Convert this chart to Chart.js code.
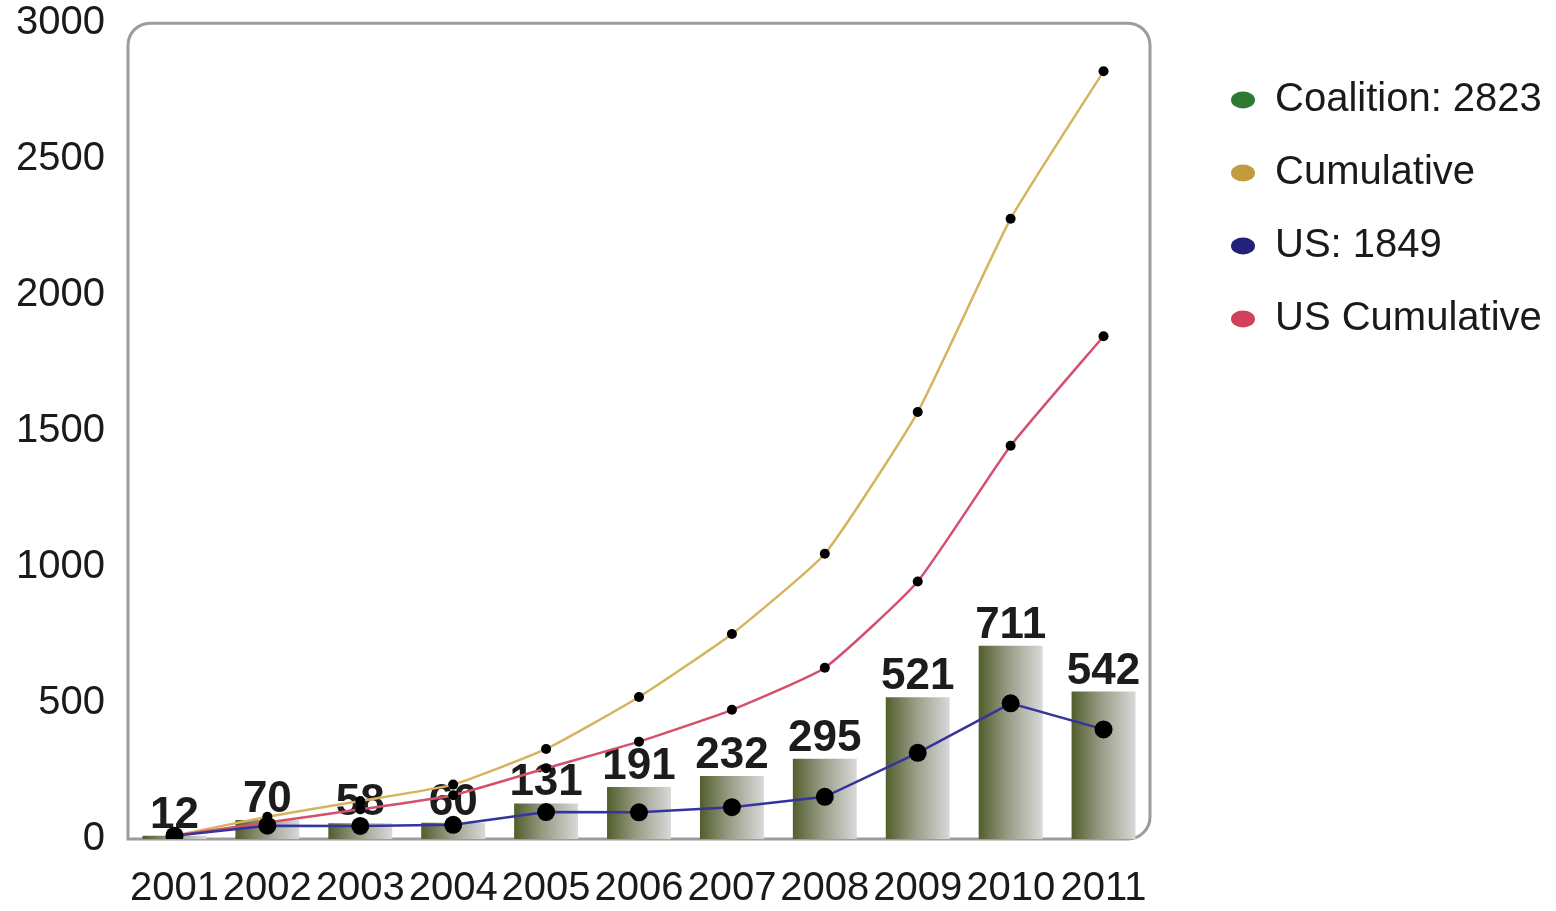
<!DOCTYPE html>
<html>
<head>
<meta charset="utf-8">
<script src="https://cdn.jsdelivr.net/npm/chart.js@4.4.1/dist/chart.umd.min.js"></script>
<style>
    html, body { margin: 0; padding: 0; background: #ffffff; }
    #wrap { width: 1556px; height: 911px; }
</style>
</head>
<body>
<div id="wrap"><canvas id="deathsChart" width="1556" height="911"></canvas></div>
<script>
// Chart data
const years = ['2001', '2002', '2003', '2004', '2005', '2006', '2007', '2008', '2009', '2010', '2011'];
const coalition = [12, 70, 58, 60, 131, 191, 232, 295, 521, 711, 542];
const coalitionCumulative = [12, 82, 140, 200, 331, 522, 754, 1049, 1570, 2281, 2823];
const us = [12, 49, 48, 52, 99, 98, 117, 155, 317, 499, 403];
const usCumulative = [12, 61, 109, 161, 260, 358, 475, 630, 947, 1446, 1849];
const yTicks = [0, 500, 1000, 1500, 2000, 2500, 3000];

const FONT = 'Liberation Sans, Arial, sans-serif';
const LEGEND_WIDTH = 358;

// Rounded plot frame, drawn under the datasets
const frameBox = {
    id: 'frameBox',
    beforeDatasetsDraw(chart) {
        const { ctx, chartArea: a } = chart;
        ctx.save();
        ctx.strokeStyle = '#9c9c9c';
        ctx.lineWidth = 3;
        ctx.beginPath();
        ctx.roundRect(a.left, a.top, a.right - a.left, a.bottom - a.top, [22, 22, 22, 0]);
        ctx.stroke();
        ctx.restore();
    }
};

// Fixed legend width (keeps the plot right edge where the original has it)
const legendWidth = {
    id: 'legendWidth',
    beforeLayout(chart) {
        const lg = chart.legend;
        if (!lg || lg._fixedFit) return;
        const origFit = lg.fit;
        lg.fit = function () {
            origFit.call(this);
            this.width = LEGEND_WIDTH;
        };
        lg._fixedFit = true;
    }
};

// Horizontal gradient on each bar + value labels above the bars
const barStyle = {
    id: 'barStyle',
    beforeDatasetDraw(chart, args) {
        if (args.index !== 0) return;
        const ctx = chart.ctx;
        args.meta.data.forEach(bar => {
            const g = ctx.createLinearGradient(bar.x - bar.width / 2, 0, bar.x + bar.width / 2, 0);
            g.addColorStop(0, '#525e2c');
            g.addColorStop(0.45, '#979b84');
            g.addColorStop(1, '#d9d9d9');
            bar.options = Object.assign({}, bar.options, { backgroundColor: g });
        });
    },
    afterDatasetDraw(chart, args) {
        if (args.index !== 0) return;
        const ctx = chart.ctx;
        ctx.save();
        ctx.font = 'bold 44px ' + FONT;
        ctx.fillStyle = '#1c1c1c';
        ctx.textAlign = 'center';
        ctx.textBaseline = 'alphabetic';
        args.meta.data.forEach((bar, i) => {
            ctx.fillText(String(coalition[i]), bar.x, bar.y - 8);
        });
        ctx.restore();
    }
};

const chart = new Chart(document.getElementById('deathsChart'), {
    data: {
        labels: years,
        datasets: [
            {
                type: 'bar',
                label: 'Coalition: 2823',
                data: coalition,
                backgroundColor: '#2f7a33',
                barPercentage: 0.8,
                categoryPercentage: 0.86,
                order: 4
            },
            {
                type: 'line',
                label: 'Cumulative',
                data: coalitionCumulative,
                borderColor: '#d6b45e',
                backgroundColor: '#c39a3c',
                borderWidth: 2.5,
                tension: 0.15,
                pointRadius: 5,
                pointBackgroundColor: '#000000',
                pointBorderWidth: 0,
                order: 3
            },
            {
                type: 'line',
                label: 'US: 1849',
                data: us,
                borderColor: '#34349c',
                backgroundColor: '#22227a',
                borderWidth: 2.5,
                tension: 0,
                pointRadius: 9,
                pointBackgroundColor: '#000000',
                pointBorderWidth: 0,
                order: 1
            },
            {
                type: 'line',
                label: 'US Cumulative',
                data: usCumulative,
                borderColor: '#d4506c',
                backgroundColor: '#d2405a',
                borderWidth: 2.5,
                tension: 0.15,
                pointRadius: 5,
                pointBackgroundColor: '#000000',
                pointBorderWidth: 0,
                order: 2
            }
        ]
    },
    options: {
        responsive: false,
        animation: false,
        layout: { padding: { top: 0, right: 0, bottom: -28, left: 0 } },
        plugins: {
            tooltip: { enabled: false },
            legend: {
                position: 'right',
                align: 'start',
                title: { display: true, text: ' ', font: { size: 10 }, padding: { top: 17, bottom: 18 } },
                labels: {
                    usePointStyle: true,
                    pointStyle: 'circle',
                    boxHeight: 12,
                    pointStyleWidth: 24,
                    padding: 33,
                    color: '#1a1a1a',
                    font: { family: FONT, size: 40 },
                    sort: (a, b) => a.datasetIndex - b.datasetIndex,
                    generateLabels(c) {
                        const items = Chart.defaults.plugins.legend.labels.generateLabels(c);
                        items.forEach(it => {
                            const ds = c.data.datasets[it.datasetIndex];
                            it.fillStyle = ds.type === 'bar' ? '#2f7a33' : ds.backgroundColor;
                            it.strokeStyle = it.fillStyle;
                            it.lineWidth = 0;
                        });
                        return items;
                    }
                }
            }
        },
        scales: {
            x: {
                grid: { display: false, drawTicks: false },
                border: { display: false },
                ticks: {
                    color: '#1a1a1a',
                    padding: 30,
                    maxRotation: 0,
                    autoSkip: false,
                    font: { family: FONT, size: 40, lineHeight: 1 }
                }
            },
            y: {
                min: 0,
                max: 3000,
                grid: { display: false, drawTicks: false },
                border: { display: false },
                afterBuildTicks: s => { s.ticks = yTicks.map(v => ({ value: v })); },
                afterFit: s => { s.width = 128; },
                ticks: {
                    color: '#1a1a1a',
                    padding: 23,
                    callback: v => String(v),
                    font: { family: FONT, size: 40, lineHeight: 0.01 }
                }
            },
            gap: {
                position: 'right',
                grid: { display: false, drawTicks: false },
                border: { display: false },
                ticks: { display: false },
                afterFit: s => { s.width = 48; }
            }
        }
    },
    plugins: [frameBox, legendWidth, barStyle]
});
</script>
</body>
</html>
